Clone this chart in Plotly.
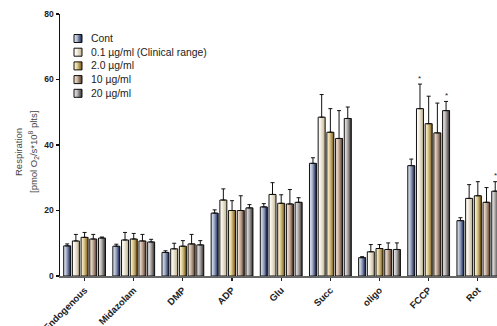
import plotly.graph_objects as go

# ---------------- data ----------------
categories = ["Endogenous", "Midazolam", "DMP", "ADP", "Glu", "Succ", "oligo", "FCCP", "Rot"]
series_names = ["Cont", "0.1 µg/ml (Clinical range)", "2.0 µg/ml", "10 µg/ml", "20 µg/ml"]

cont = [9.2, 9.1, 7.2, 19.2, 21.1, 34.4, 5.6, 33.7, 16.9]
cont_err = [0.6, 0.6, 0.5, 1.0, 1.0, 1.7, 0.3, 2.0, 0.9]
c01 = [10.7, 11.0, 8.3, 23.2, 24.9, 48.5, 7.4, 51.1, 23.7]
c01_err = [2.0, 2.3, 1.7, 3.4, 3.6, 6.9, 2.2, 7.5, 4.2]
c2 = [11.8, 11.3, 9.1, 20.0, 22.2, 43.9, 8.4, 46.5, 24.5]
c2_err = [1.5, 1.7, 1.7, 3.0, 2.6, 7.2, 1.2, 8.4, 4.3]
c10 = [11.3, 10.7, 9.8, 20.0, 22.0, 42.0, 8.1, 43.7, 22.5]
c10_err = [1.4, 2.0, 2.9, 4.5, 4.4, 8.5, 2.0, 9.1, 4.5]
c20 = [11.6, 10.4, 9.5, 20.8, 22.5, 48.1, 8.1, 50.5, 25.9]
c20_err = [0.3, 0.8, 1.3, 1.0, 1.4, 3.5, 2.0, 2.8, 2.9]

values = [cont, c01, c2, c10, c20]
errors = [cont_err, c01_err, c2_err, c10_err, c20_err]

# significance markers: (category, series index)
significant = [("FCCP", 1), ("FCCP", 4), ("Rot", 4)]

y_ticks = [0, 20, 40, 60, 80]
y_title_lines = ["Respiration", "[pmol O<sub>2</sub>/s*10<sup>8</sup> plts]"]

# ---------------- style ----------------
FONT = "Arial, Liberation Sans, Helvetica, sans-serif"
grad_light = [(214, 222, 236), (255, 253, 246), (252, 240, 196), (240, 222, 206), (228, 224, 224)]
grad_dark = [(30, 44, 92), (196, 182, 150), (130, 96, 26), (96, 66, 48), (66, 60, 60)]
N_SLICES = 6
PITCH = 0.177
BAR_W = 0.142
X_MAX = 8.39


def mix(a, b, t):
    return "rgb(%d,%d,%d)" % tuple(round(a[k] * (1 - t) + b[k] * t) for k in range(3))


def tfun(j):
    return (j / (N_SLICES - 1)) ** 1.4


fig = go.Figure()

for i, (name, vals, errs) in enumerate(zip(series_names, values, errors)):
    left = (i - 2) * PITCH - BAR_W / 2
    for j in range(N_SLICES):
        off = left + j * BAR_W / N_SLICES
        fig.add_trace(go.Bar(
            x=categories, y=vals, offset=off, width=BAR_W - j * BAR_W / N_SLICES,
            marker=dict(color=mix(grad_light[i], grad_dark[i], tfun(j)), line=dict(width=0)),
            showlegend=False, hoverinfo="skip",
        ))
    fig.add_trace(go.Bar(
        x=categories, y=vals, offset=left, width=BAR_W, name=name,
        marker=dict(color="rgba(0,0,0,0)", line=dict(color="#111", width=1)),
        error_y=dict(type="data", array=errs, symmetric=False, arrayminus=[0] * len(errs),
                     color="#111", thickness=1, width=2),
        showlegend=False,
    ))

W, H = 497, 326
# plot area in window pixels
PX0, PX1, PY0, PY1 = 60, 497, 14, 276
ML, MR, MT, MB = PX0, W - PX1, PY0, H - PY1
PW, PH = PX1 - PX0, PY1 - PY0


def px2paper(px, py):
    return (px - PX0) / PW, (PY1 - py) / PH


shapes = []
annotations = []

for cat, si in significant:
    k = categories.index(cat)
    top = values[si][k] + errors[si][k]
    annotations.append(dict(
        x=cat, y=top, xref="x", yref="y", text="*", showarrow=False,
        xshift=(si - 2) * PITCH * (PW / (X_MAX + 0.5)), yshift=6, yanchor="middle",
        font=dict(family=FONT, size=8, color="#222"),
    ))

# manual legend
LX0, LY0, LSW, LSTEP = 74, 34.5, 8, 13.7
for i, name in enumerate(series_names):
    ytop = LY0 + i * LSTEP
    for j in range(N_SLICES):
        x0p, y0p = px2paper(LX0 + j * LSW / N_SLICES, ytop)
        x1p, y1p = px2paper(LX0 + LSW, ytop + LSW)
        shapes.append(dict(type="rect", xref="paper", yref="paper", x0=x0p, x1=x1p, y0=y1p, y1=y0p,
                           line=dict(width=0), fillcolor=mix(grad_light[i], grad_dark[i], tfun(j)),
                           layer="above"))
    x0p, y0p = px2paper(LX0, ytop)
    x1p, y1p = px2paper(LX0 + LSW, ytop + LSW)
    shapes.append(dict(type="rect", xref="paper", yref="paper", x0=x0p, x1=x1p, y0=y1p, y1=y0p,
                       line=dict(color="#111", width=1), fillcolor="rgba(0,0,0,0)", layer="above"))
    tx, ty = px2paper(89, ytop + LSW / 2)
    annotations.append(dict(x=tx, y=ty, xref="paper", yref="paper", text=name, showarrow=False,
                            xanchor="left", yanchor="middle",
                            font=dict(family=FONT, size=10.4, color="#222")))

# y-axis title as two rotated lines
for line_text, cx in zip(y_title_lines, [18, 33]):
    tx, ty = px2paper(cx, 152)
    annotations.append(dict(x=tx, y=ty, xref="paper", yref="paper", text=line_text, showarrow=False,
                            textangle=-90, xanchor="center", yanchor="middle",
                            font=dict(family=FONT, size=9.5, color="#444")))

fig.update_layout(
    width=W, height=H,
    margin=dict(l=ML, r=MR, t=MT, b=MB, pad=0, autoexpand=False),
    barmode="overlay",
    plot_bgcolor="white", paper_bgcolor="white",
    font=dict(family=FONT, color="#222"),
    showlegend=False,
    shapes=shapes,
    annotations=annotations,
)

fig.update_xaxes(
    type="category", categoryorder="array", categoryarray=categories,
    range=[-0.5, X_MAX], automargin=False,
    showline=True, linecolor="#666", linewidth=2,
    ticks="outside", ticklen=3, tickwidth=1.2, tickcolor="#222",
    tickangle=-45, tickfont=dict(family=FONT, size=9.5, color="#222", weight="bold"),
    showgrid=False, zeroline=False,
)
fig.update_yaxes(
    range=[0, 80], tickvals=y_ticks, ticktext=[str(v) for v in y_ticks], automargin=False,
    showline=True, linecolor="#111", linewidth=1.5,
    ticks="outside", ticklen=3, tickwidth=1.2, tickcolor="#111",
    tickfont=dict(family=FONT, size=8.5, color="#222", weight="bold"),
    showgrid=False, zeroline=False,
)

# remove the browser's default 8px page margin so the figure fills the window exactly
fig.write_html(
    "out.html",
    config={"displayModeBar": False, "staticPlot": True},
    post_script="document.body.style.margin='0';document.body.style.overflow='hidden';",
)
